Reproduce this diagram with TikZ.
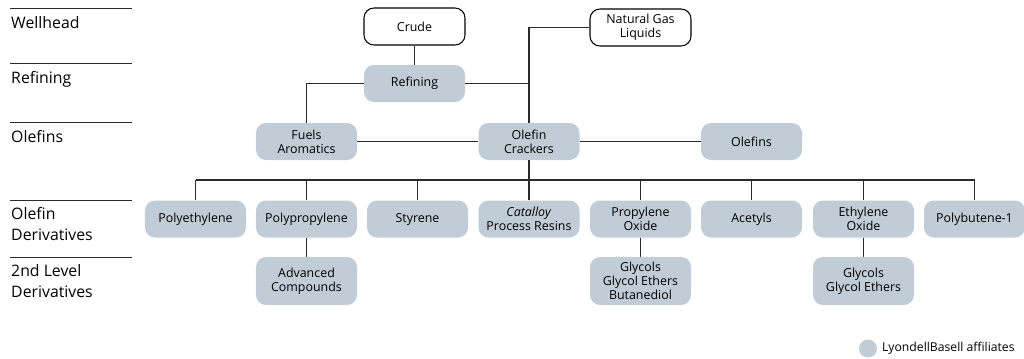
\documentclass[tikz,border=0pt]{standalone}
\usepackage{fontspec}
\setmainfont{Open Sans}
\usetikzlibrary{positioning,calc}
\usepackage{xcolor}
\definecolor{lbgray}{HTML}{C1CDD6}
\definecolor{dark}{HTML}{2A2A2A}
\tikzset{
  unit/.style={rounded corners=3mm, fill=lbgray, align=center, minimum width=3.03cm, minimum height=1.11cm, inner sep=1pt, font=\fontsize{10.6}{12.2}\selectfont},
  unittall/.style={unit, minimum height=1.44cm},
  feed/.style={unit, fill=white, draw=black, line width=0.9pt},
  link/.style={draw=dark, line width=1.1pt},
  rule/.style={draw=dark, line width=0.8pt},
  level/.style={anchor=west, align=left, inner sep=0pt, font=\fontsize{13.5}{18.5}\selectfont}
}
\begin{document}
\begin{tikzpicture}[x=0.03cm, y=-0.03cm]
  \useasboundingbox (0,0) rectangle (1024,358);
  % levels on the left
  \foreach \y in {8,63,122,200,257}
    \draw[rule] (10,\y) -- (132,\y);
  \node[level] (lvwell) at (11,23) {Wellhead};
  \node[level] (lvref) at (11,79.5) {Refining};
  \node[level] (lvole) at (11,137) {Olefins};
  \node[level] (lvder) at (11,224) {Olefin\\Derivatives};
  \node[level] (lvsec) at (11,281) {2nd Level\\Derivatives};
  % feeds
  \node[feed] (crude) at (414.5,26.5) {Crude};
  \node[feed] (ngl) at (640.5,27.5) {Natural Gas\\Liquids};
  % refining and olefins
  \node[unit] (refining) at (414.5,83.5) {Refining};
  \node[unit] (fuels) at (306.5,141.5) {Fuels\\Aromatics};
  \node[unit] (crackers) at (529,141.5) {Olefin\\Crackers};
  \node[unit] (olefins) at (751.5,141.5) {Olefins};
  % derivatives
  \node[unit] (pe) at (195.5,219) {Polyethylene};
  \node[unit] (pp) at (306.5,219) {Polypropylene};
  \node[unit] (styrene) at (417.5,219) {Styrene};
  \node[unit] (catalloy) at (529,219) {\textit{Catalloy}\\Process Resins};
  \node[unit] (po) at (640.5,219) {Propylene\\Oxide};
  \node[unit] (acetyls) at (751.5,219) {Acetyls};
  \node[unit] (eo) at (863.5,219) {Ethylene\\Oxide};
  \node[unit] (pb) at (974.5,219) {Polybutene-1};
  % second level
  \node[unittall] (advcomp) at (306.5,281) {Advanced\\Compounds};
  \node[unittall] (poglycols) at (640.5,281) {Glycols\\Glycol Ethers\\Butanediol};
  \node[unittall] (eoglycols) at (863.5,281) {Glycols\\Glycol Ethers};
  % connectors
  \draw[link] (crude) -- (refining);
  \draw[link] (refining.west) -| (fuels.north);
  \draw[link] (refining.east) -- (refining.east -| crackers.north);
  \draw[link] (ngl.west) -| (crackers.north);
  \draw[link] (fuels) -- (crackers);
  \draw[link] (crackers) -- (olefins);
  \coordinate (bus) at (0,180);
  \draw[link] (crackers.south) -- (crackers.south |- bus);
  \draw[link] (pe.north |- bus) -- (pb.north |- bus);
  \foreach \n in {pe,pp,styrene,catalloy,po,acetyls,eo,pb}
    \draw[link] (\n.north) -- (\n.north |- bus);
  \draw[link] (pp) -- (advcomp);
  \draw[link] (po) -- (poglycols);
  \draw[link] (eo) -- (eoglycols);
  % legend
  \node[circle, fill=lbgray, minimum size=0.54cm, inner sep=0pt] (legdot) at (868,348.5) {};
  \node[right=4pt of legdot, inner sep=0pt, font=\fontsize{10.4}{12}\selectfont] (legtext) {LyondellBasell affiliates};
\end{tikzpicture}
\end{document}
